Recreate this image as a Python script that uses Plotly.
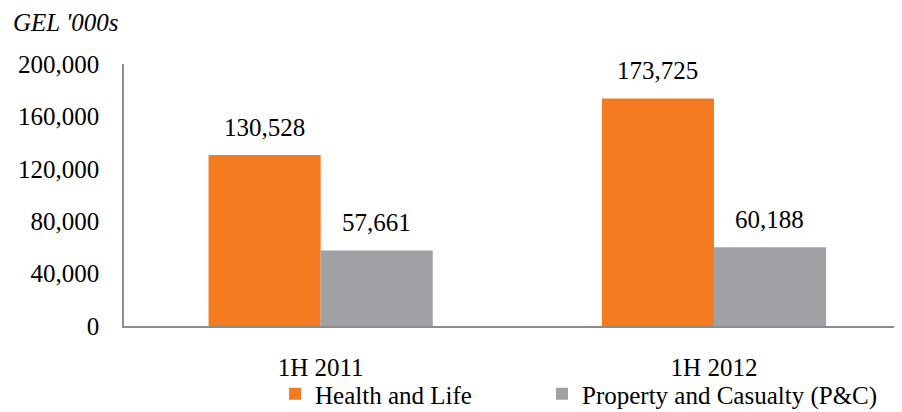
import plotly.graph_objects as go

categories = ["1H 2011", "1H 2012"]
health_life = [130528, 173725]
property_casualty = [57661, 60188]
y_ticks = [0, 40000, 80000, 120000, 160000, 200000]
y_tick_labels = ["0", "40,000", "80,000", "120,000", "160,000", "200,000"]

FONT = "Liberation Serif, Times New Roman, serif"
BAR_HALF_PX = 56  # half of one bar's pixel width, for centring value labels
FIG_W, FIG_H = 894, 404   # page body adds an 8px margin on top/left
PLOT_W, PLOT_H = 778, 262

fig = go.Figure()
fig.add_trace(go.Bar(
    x=categories, y=health_life, name="Health and Life",
    marker=dict(color="#F47B20", line=dict(width=0)),
    legend="legend",
))
fig.add_trace(go.Bar(
    x=categories, y=property_casualty, name="Property and Casualty (P&C)",
    marker=dict(color="#A0A1A5", line=dict(width=0)),
    legend="legend2",
))

annotations = []
for series, shift in ((health_life, -BAR_HALF_PX), (property_casualty, BAR_HALF_PX)):
    for cat, val in zip(categories, series):
        annotations.append(dict(
            x=cat, y=val, xref="x", yref="y", text=f"{val:,}",
            xanchor="center", yanchor="bottom", xshift=shift, yshift=12,
            showarrow=False, font=dict(family=FONT, size=25, color="#000000"),
        ))
annotations.append(dict(
    text="<i>GEL '000s</i>", xref="paper", yref="paper",
    x=-113 / PLOT_W, y=1 + 42 / PLOT_H, xanchor="left", yanchor="middle",
    showarrow=False, font=dict(family=FONT, size=25, color="#000000"),
))

legend_common = dict(
    orientation="h", yref="container", y=1 - 386 / FIG_H, yanchor="middle",
    xref="container", xanchor="left",
    font=dict(family=FONT, size=25, color="#000000"),
    bgcolor="rgba(0,0,0,0)", borderwidth=0,
)

fig.update_layout(
    width=FIG_W, height=FIG_H,
    margin=dict(l=116, r=0, t=56, b=86, autoexpand=False),
    paper_bgcolor="white", plot_bgcolor="white",
    barmode="group", bargap=0.43, bargroupgap=0,
    font=dict(family=FONT, color="#000000"),
    showlegend=True,
    legend=dict(x=267 / FIG_W, **legend_common),
    legend2=dict(x=534 / FIG_W, **legend_common),
    xaxis=dict(
        type="category", range=[-0.5, 1.478],
        showline=True, linecolor="#8C8C8C", linewidth=1.5,
        showgrid=False, zeroline=False, ticks="",
        tickfont=dict(family=FONT, size=25, color="#000000"),
        ticklabelstandoff=18,
    ),
    yaxis=dict(
        range=[0, 200000], tickvals=y_ticks, ticktext=y_tick_labels,
        showline=True, linecolor="#8C8C8C", linewidth=1.5,
        showgrid=False, zeroline=False, ticks="",
        tickfont=dict(family=FONT, size=25, color="#000000"),
        ticklabelstandoff=18,
    ),
    annotations=annotations,
)

fig.write_html("out.html")
